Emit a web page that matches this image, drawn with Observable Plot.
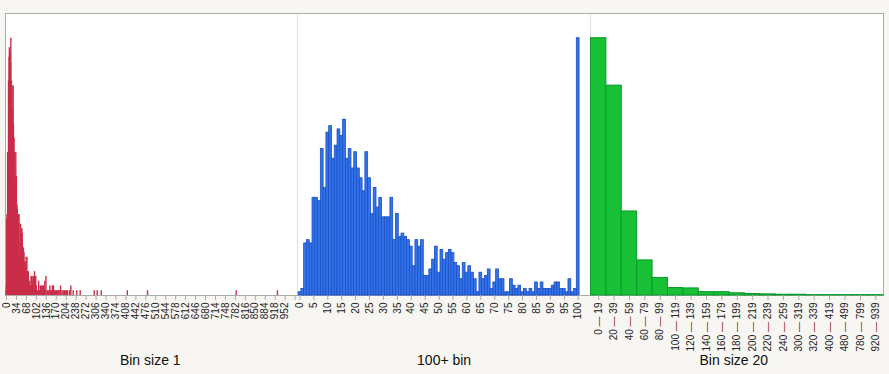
<!DOCTYPE html>
<html>
<head>
<meta charset="utf-8">
<script src="https://cdn.jsdelivr.net/npm/d3@7"></script>
<script src="https://cdn.jsdelivr.net/npm/@observablehq/plot@0.6"></script>
<style>
html, body { margin: 0; padding: 0; background: #f7f6f2; }
#wrap { position: relative; width: 889px; height: 374px; background: #f7f6f2; overflow: hidden; }
#box { position: absolute; left: 5px; top: 13px; width: 877px; height: 281px; border: 1px solid #ababab; background: #ffffff; }
.sep { position: absolute; top: 14px; width: 1px; height: 281px; background: #dedede; }
</style>
</head>
<body>
<div id="wrap">
  <div id="box"></div>
  <div class="sep" style="left:297px"></div>
  <div class="sep" style="left:590px"></div>
</div>
<script>
// ---- data (counts per value) ----
// counts for values 0..99 (bin size 1)
const singleBinCounts = [
  1, 2, 16, 17, 16, 30, 30, 29, 45, 33,
  50, 52, 42, 46, 51, 49, 54, 42, 45, 39,
  44, 39, 36, 32, 44, 36, 25, 33, 27, 30,
  24, 24, 24, 30, 17, 25, 18, 19, 18, 17,
  15, 9, 17, 15, 17, 6, 6, 8, 11, 15,
  7, 14, 11, 13, 14, 13, 10, 9, 5, 10,
  7, 9, 7, 5, 1, 7, 5, 6, 8, 2,
  4, 8, 5, 5, 1, 1, 5, 3, 2, 3,
  1, 2, 1, 2, 1, 4, 2, 4, 2, 2,
  2, 3, 4, 4, 2, 2, 1, 5, 1, 2
];
// values >= 100 that occur (bin size 1) and their counts
const tailBins = [100, 101, 103, 104, 106, 108, 110, 111, 113, 115, 117, 118, 119,
  120, 121, 124, 125, 127, 128, 130, 132, 133, 135, 136,
  141, 143, 146, 149, 152, 155, 158,
  160, 162, 166, 169, 172, 174, 177, 179,
  181, 186, 191, 195, 199,
  202, 206, 210, 217, 221, 229, 241, 253,
  301, 311, 325, 414, 483, 786, 927];
const tailBinCounts = [1, 4, 2, 1, 1, 1, 1, 3, 1, 1, 2, 1, 1,
  1, 2, 1, 2, 1, 2, 1, 3, 1, 1, 4,
  1, 1, 1, 2, 1, 1, 2,
  1, 2, 1, 1, 1, 1, 1, 1,
  1, 2, 1, 1, 1,
  1, 1, 1, 1, 2, 1, 1, 1,
  1, 1, 1, 1, 1, 1, 1];
// "100+ bin" panel
const overflowCount = 79;
const blueBins = [...singleBinCounts.keys(), 100];
const blueCounts = [...singleBinCounts, overflowCount];
// "Bin size 20" panel
const bin20Labels = ["0 — 19", "20 — 39", "40 — 59", "60 — 79", "80 — 99", "100 — 119", "120 — 139",
  "140 — 159", "160 — 179", "180 — 199", "200 — 219", "220 — 239", "240 — 259", "300 — 319",
  "320 — 339", "400 — 419", "480 — 499", "780 — 799", "920 — 939"];
const bin20Counts = [689, 562, 225, 94, 47, 20, 19, 9, 9, 6, 4, 3, 2, 2, 1, 1, 1, 1, 1];
// tick labels
const redTicks = [0, 34, 68, 102, 136, 170, 204, 238, 272, 306, 340, 374, 408, 442, 476, 510, 544,
  578, 612, 646, 680, 714, 748, 782, 816, 850, 884, 918, 952, 986];
const blueTicks = [0, 5, 10, 15, 20, 25, 30, 35, 40, 45, 50, 55, 60, 65, 70, 75, 80, 85, 90, 95, 100];
const titles = ["Bin size 1", "100+ bin", "Bin size 20"];

// ---- rendering ----
const FONT = '"Liberation Sans", Arial, Helvetica, sans-serif';
const H = 374, TOP = 14, BOTTOM = 79, K = 281 / 257.3;
const baseStyle = () => ({ background: "transparent", fontFamily: FONT, fontSize: "10px", color: "#222", overflow: "visible" });
const axisOpts = { anchor: "bottom", tickSize: 5, tickPadding: 2, tickRotate: -90, stroke: "#aaa", fill: "#222", fontSize: 10, label: null };
const titleOpts = { frameAnchor: "bottom", dy: 69, fontSize: 14, fill: "#111", text: d => d };

const redData = singleBinCounts.map((c, v) => ({ v, c }))
  .concat(tailBins.map((v, i) => ({ v, c: tailBinCounts[i] })))
  .filter(d => d.c > 0);

const red = Plot.plot({
  width: 299, height: H, marginLeft: 6, marginRight: 1.5, marginTop: TOP, marginBottom: BOTTOM,
  style: baseStyle(),
  x: { type: "linear", domain: [0, 996], label: null },
  y: { domain: [0, d3.max(redData, d => d.c) * K], axis: null },
  marks: [
    Plot.rectY(redData, { x1: d => d.v, x2: d => d.v + 1, y: "c", fill: "#c92e49", insetLeft: -0.55, insetRight: -0.55 }),
    Plot.axisX(redTicks, { ...axisOpts, tickFormat: d => d === 986 ? "" : String(d) }),
    Plot.text([titles[0]], { ...titleOpts, dx: -2 })
  ]
});

const blue = Plot.plot({
  width: 293, height: H, marginLeft: 1.1, marginRight: 10.9, marginTop: TOP, marginBottom: BOTTOM,
  style: baseStyle(),
  x: { type: "band", domain: blueBins, padding: 0, round: false, label: null },
  y: { domain: [0, d3.max(blueCounts) * K], axis: null },
  marks: [
    Plot.barY(blueCounts, { x: (d, i) => blueBins[i], y: d => d, fill: "#3174ea", stroke: "#1d4ec4", strokeWidth: 0.8 }),
    Plot.axisX(blueTicks, { ...axisOpts, tickFormat: d => String(d) }),
    Plot.text([titles[1]], { ...titleOpts, dx: 5 })
  ]
});

const green = Plot.plot({
  width: 294, height: H, marginLeft: 0.5, marginRight: 1, marginTop: TOP, marginBottom: BOTTOM,
  style: baseStyle(),
  x: { type: "band", domain: bin20Labels, padding: 0, round: false, label: null },
  y: { domain: [0, d3.max(bin20Counts) * K], axis: null },
  marks: [
    Plot.barY(bin20Counts, { x: (d, i) => bin20Labels[i], y: d => d, fill: "#17c035", stroke: "#0a9a2c", strokeWidth: 1 }),
    Plot.axisX(bin20Labels, { ...axisOpts }),
    Plot.text([titles[2]], { ...titleOpts, dx: -3.5 })
  ]
});

// colour the dash of the range labels
const NS = "http://www.w3.org/2000/svg";
green.querySelectorAll("text").forEach(t => {
  const m = t.textContent.match(/^(\d+) — (\d+)$/);
  if (!m) return;
  t.textContent = "";
  const a = document.createElementNS(NS, "tspan"); a.textContent = m[1] + " ";
  const b = document.createElementNS(NS, "tspan"); b.textContent = "—"; b.setAttribute("fill", "#8e1f1f");
  const c = document.createElementNS(NS, "tspan"); c.textContent = " " + m[2];
  t.append(a, b, c);
});

const wrap = document.getElementById("wrap");
[[red, 0], [blue, 297], [green, 590]].forEach(([svg, left]) => {
  svg.style.position = "absolute";
  svg.style.left = left + "px";
  svg.style.top = "0px";
  svg.style.maxWidth = "none";
  wrap.appendChild(svg);
});
</script>
</body>
</html>
